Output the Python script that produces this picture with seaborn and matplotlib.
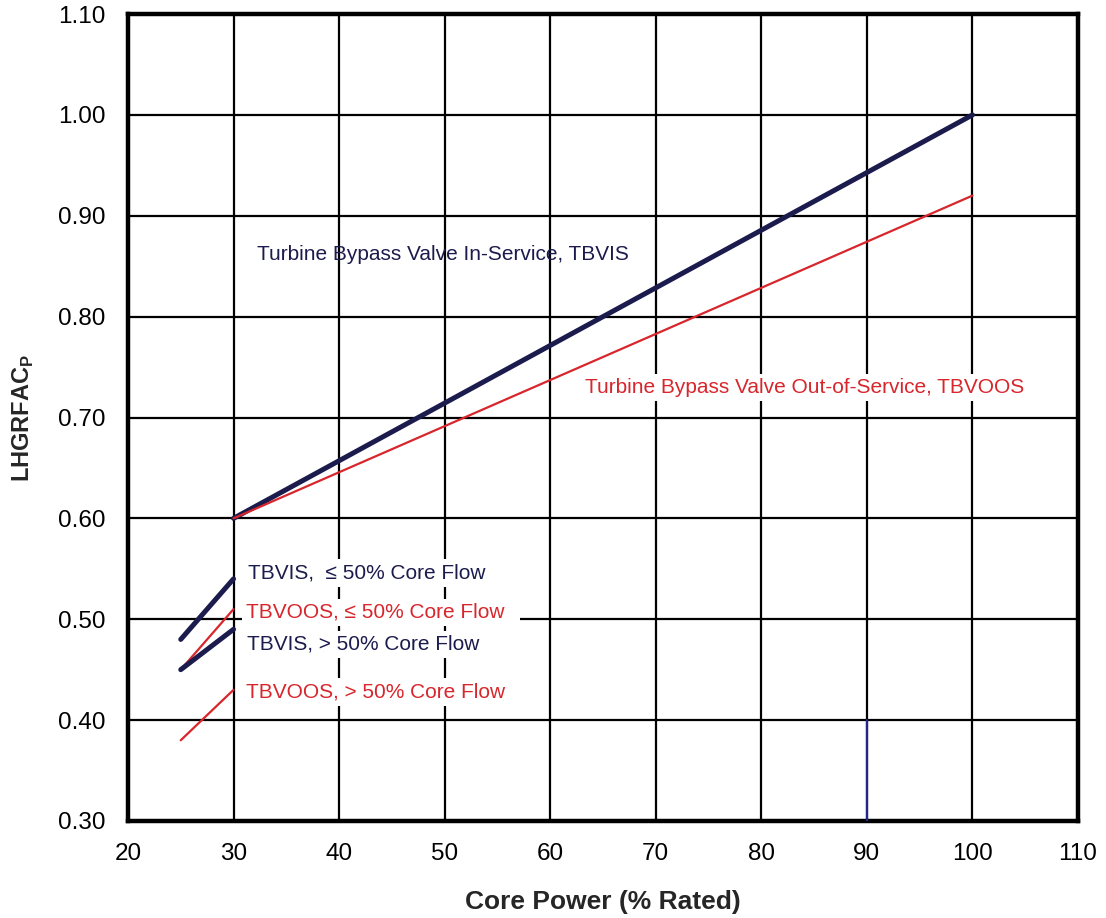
import matplotlib
matplotlib.use("Agg")
import matplotlib.pyplot as plt
import seaborn as sns
import pandas as pd

# ---- data ----
tbvis_power = [30, 100]
tbvis_fac = [0.60, 1.00]
tbvoos_power = [30, 100]
tbvoos_fac = [0.60, 0.92]
tbvis_le50_power = [25, 30]
tbvis_le50_fac = [0.48, 0.54]
tbvoos_le50_power = [25, 30]
tbvoos_le50_fac = [0.45, 0.51]
tbvis_gt50_power = [25, 30]
tbvis_gt50_fac = [0.45, 0.49]
tbvoos_gt50_power = [25, 30]
tbvoos_gt50_fac = [0.38, 0.43]
marker_line_power = [90, 90]
marker_line_fac = [0.30, 0.40]

x_ticks = [20, 30, 40, 50, 60, 70, 80, 90, 100, 110]
y_ticks = [0.30, 0.40, 0.50, 0.60, 0.70, 0.80, 0.90, 1.00, 1.10]

NAVY = "#1b1b4d"
RED = "#d7262c"

sns.set_style("white")
plt.rcParams['font.family'] = ['Liberation Sans', 'DejaVu Sans']
plt.rcParams['mathtext.fontset'] = 'custom'
plt.rcParams['mathtext.rm'] = 'Liberation Sans'
plt.rcParams['mathtext.bf'] = 'Liberation Sans:bold'

fig = plt.figure(figsize=(11.06, 9.18), dpi=100)
ax = fig.add_axes([0.1157, 0.1057, 0.859, 0.879])

# grid
ax.set_xticks(x_ticks)
ax.set_yticks(y_ticks)
ax.set_xticks([v + 5 for v in x_ticks[:-1]], minor=True)
ax.set_yticks([round(v + 0.05, 2) for v in y_ticks[:-1]], minor=True)
ax.grid(True, which='major', color='black', linewidth=1.6, zorder=0)
ax.set_axisbelow(True)

series = [
    ("TBVIS", tbvis_power, tbvis_fac, NAVY, 3.6),
    ("TBVOOS", tbvoos_power, tbvoos_fac, RED, 1.6),
    ("TBVIS_le50", tbvis_le50_power, tbvis_le50_fac, NAVY, 3.6),
    ("TBVOOS_le50", tbvoos_le50_power, tbvoos_le50_fac, RED, 1.6),
    ("TBVIS_gt50", tbvis_gt50_power, tbvis_gt50_fac, NAVY, 3.6),
    ("TBVOOS_gt50", tbvoos_gt50_power, tbvoos_gt50_fac, RED, 1.6),
    ("marker", marker_line_power, marker_line_fac, "#22288a", 1.6),
]
for name, xs, ys, col, lw in series:
    df = pd.DataFrame({"power": xs, "fac": ys})
    sns.lineplot(data=df, x="power", y="fac", ax=ax, color=col, linewidth=lw,
                 sort=False, estimator=None, zorder=3)

ax.set_xlim(20, 110)
ax.set_ylim(0.30, 1.10)
ax.set_xticklabels([str(v) for v in x_ticks])
ax.set_yticklabels([f"{v:.2f}" for v in y_ticks])

for s in ax.spines.values():
    s.set_linewidth(3.2)
    s.set_color('black')

ax.tick_params(axis='both', which='major', direction='in', length=0,
               labelsize=17.5, colors='black')
ax.tick_params(axis='both', which='minor', direction='in', length=5, width=2,
               colors='black')
ax.tick_params(axis='y', which='major', pad=16)
ax.tick_params(axis='x', which='major', pad=16)

ax.set_xlabel("Core Power (% Rated)", fontsize=19, fontweight='bold', labelpad=18)
ax.set_ylabel(r"LHGRFAC$_\mathbf{P}$", fontsize=17, fontweight='bold', labelpad=16)

box = dict(facecolor='white', edgecolor='none', pad=3)
fs = 15
ax.text(32.2, 0.862, "Turbine Bypass Valve In-Service, TBVIS", color=NAVY,
        fontsize=fs, va='center', ha='left', zorder=4)
ax.text(63.3, 0.730, "Turbine Bypass Valve Out-of-Service, TBVOOS", color=RED,
        fontsize=fs, va='center', ha='left', zorder=4, bbox=box)
ax.text(31.4, 0.546, "TBVIS,  \u2264 50% Core Flow", color=NAVY,
        fontsize=fs, va='center', ha='left', zorder=4, bbox=box)
ax.text(31.2, 0.507, "TBVOOS, \u2264 50% Core Flow  ", color=RED,
        fontsize=fs, va='center', ha='left', zorder=4, bbox=box)
ax.text(31.3, 0.475, "TBVIS, > 50% Core Flow", color=NAVY,
        fontsize=fs, va='center', ha='left', zorder=4, bbox=box)
ax.text(31.2, 0.428, "TBVOOS, > 50% Core Flow", color=RED,
        fontsize=fs, va='center', ha='left', zorder=4, bbox=box)

fig.savefig("out.png", dpi=100)
